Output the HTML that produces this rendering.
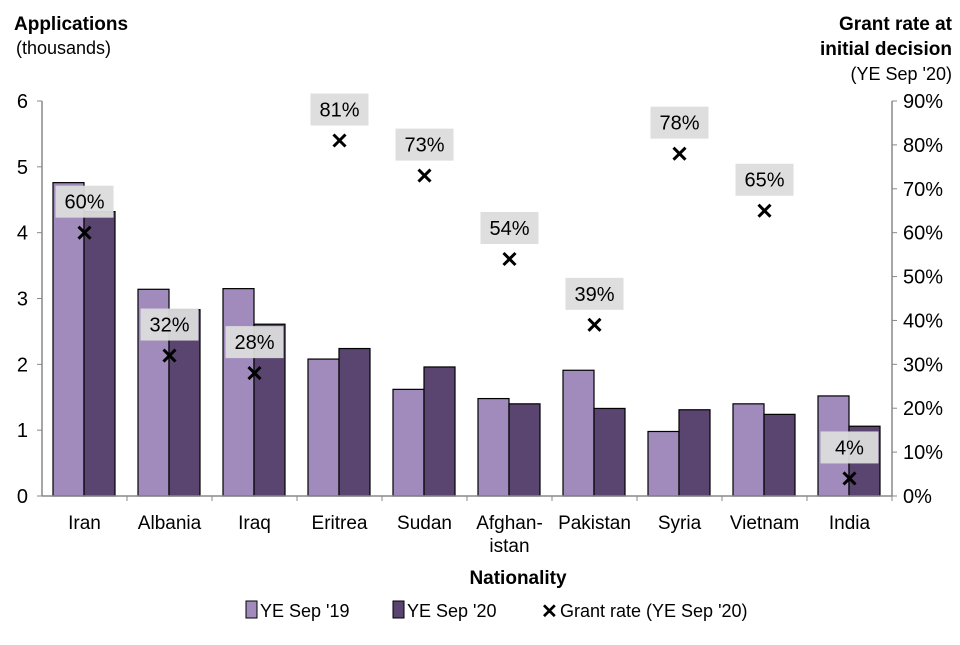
<!DOCTYPE html>
<html><head><meta charset="utf-8"><style>
body{margin:0;background:#fff;font-family:"Liberation Sans",Arial,sans-serif}
svg text{font-family:"Liberation Sans",Arial,sans-serif}
</style></head><body>
<svg id="chart" width="960" height="640" viewBox="0 0 960 640" xmlns="http://www.w3.org/2000/svg">
<text x="14" y="30" font-size="19" font-weight="bold" fill="#000">Applications</text>
<text x="16" y="54" font-size="18" fill="#000">(thousands)</text>
<text x="952" y="30" font-size="19" font-weight="bold" text-anchor="end">Grant rate at</text>
<text x="952" y="55" font-size="19" font-weight="bold" text-anchor="end">initial decision</text>
<text x="952" y="80" font-size="18" text-anchor="end">(YE Sep '20)</text>
<g id="plot"></g>
<text x="518" y="584" font-size="19" font-weight="bold" text-anchor="middle">Nationality</text>
<g>
<rect x="246" y="601" width="11" height="17" fill="#a08bbc" stroke="#000" stroke-width="1"/>
<text x="260" y="617" font-size="18">YE Sep '19</text>
<rect x="393" y="601" width="11" height="17" fill="#5a4570" stroke="#000" stroke-width="1"/>
<text x="407" y="617" font-size="18">YE Sep '20</text>
<text x="541" y="618" font-size="20" font-weight="bold">✕</text>
<text x="560" y="617" font-size="18">Grant rate (YE Sep '20)</text>
</g>
</svg>
<script>
const categories=["Iran","Albania","Iraq","Eritrea","Sudan","Afghan-|istan","Pakistan","Syria","Vietnam","India"];
const apps2019=[4.76,3.14,3.15,2.08,1.62,1.48,1.91,0.98,1.40,1.52];
const apps2020=[4.32,2.83,2.61,2.24,1.96,1.40,1.33,1.31,1.24,1.06];
const grantRate=[60,32,28,81,73,54,39,78,65,4];
const leftTicks=[0,1,2,3,4,5,6];
const rightTicks=["0%","10%","20%","30%","40%","50%","60%","70%","80%","90%"];

const NS="http://www.w3.org/2000/svg";
const g=document.getElementById('plot');
const X0=42,CW=85,Y0=496,YTOP=101,YMAX=6,RMAX=90;
const y=v=>Y0-(v/YMAX)*(Y0-YTOP);
const yr=p=>Y0-(p/RMAX)*(Y0-YTOP);
const cx=i=>X0+CW*i+CW/2;
function el(t,a){const e=document.createElementNS(NS,t);for(const k in a)e.setAttribute(k,a[k]);g.appendChild(e);return e;}

let ax=el('line',{x1:X0,y1:YTOP,x2:X0,y2:Y0,stroke:'#888','stroke-width':1.5});

let ar=el('line',{x1:X0+CW*10,y1:YTOP,x2:X0+CW*10,y2:Y0,stroke:'#888','stroke-width':1.5});

leftTicks.forEach(v=>{
  const t=el('text',{x:28,y:y(v)+7,'font-size':20,'text-anchor':'end'});t.textContent=v;
  
  
  el('line',{x1:X0-5,y1:y(v),x2:X0,y2:y(v),stroke:'#888'});
});
rightTicks.forEach((s,i)=>{
  const p=i*10;
  const t=el('text',{x:903,y:yr(p)+7,'font-size':20});t.textContent=s;
  
  
  el('line',{x1:X0+CW*10,y1:yr(p),x2:X0+CW*10+5,y2:yr(p),stroke:'#888'});
});
categories.forEach((c,i)=>{
  const bx=X0+CW*i+11;
  const b1=el('rect',{x:bx,y:y(apps2019[i]),width:31,height:Y0-y(apps2019[i]),fill:'#a08bbc',stroke:'#000','stroke-width':1.2});
  
  
  const b2=el('rect',{x:bx+31,y:y(apps2020[i]),width:31,height:Y0-y(apps2020[i]),fill:'#5a4570',stroke:'#000','stroke-width':1.2});
  
  
});
let xa=el('line',{x1:X0,y1:Y0,x2:X0+CW*10,y2:Y0,stroke:'#888','stroke-width':1.5});

categories.forEach((c,i)=>{
  el('line',{x1:X0+CW*(i+1),y1:Y0,x2:X0+CW*(i+1),y2:Y0+5,stroke:'#888'});
  c.split('|').forEach((part,k)=>{
    const t=el('text',{x:cx(i),y:529+k*23,'font-size':19,'text-anchor':'middle'});t.textContent=part;
    
    
  });
});
grantRate.forEach((p,i)=>{
  const mx=cx(i),my=yr(p);
  const m=el('path',{d:`M${mx-6},${my-6}L${mx+6},${my+6}M${mx+6},${my-6}L${mx-6},${my+6}`,stroke:'#000','stroke-width':3});
  
  
  const ly=my-31;
  const bg=el('rect',{x:mx-29,y:ly-16,width:58,height:32,fill:'#dcdcdc','fill-opacity':0.95});
  
  
  const t=el('text',{x:mx,y:ly+7,'font-size':20,'text-anchor':'middle'});t.textContent=p+'%';
  
  
});
</script>
</body></html>
